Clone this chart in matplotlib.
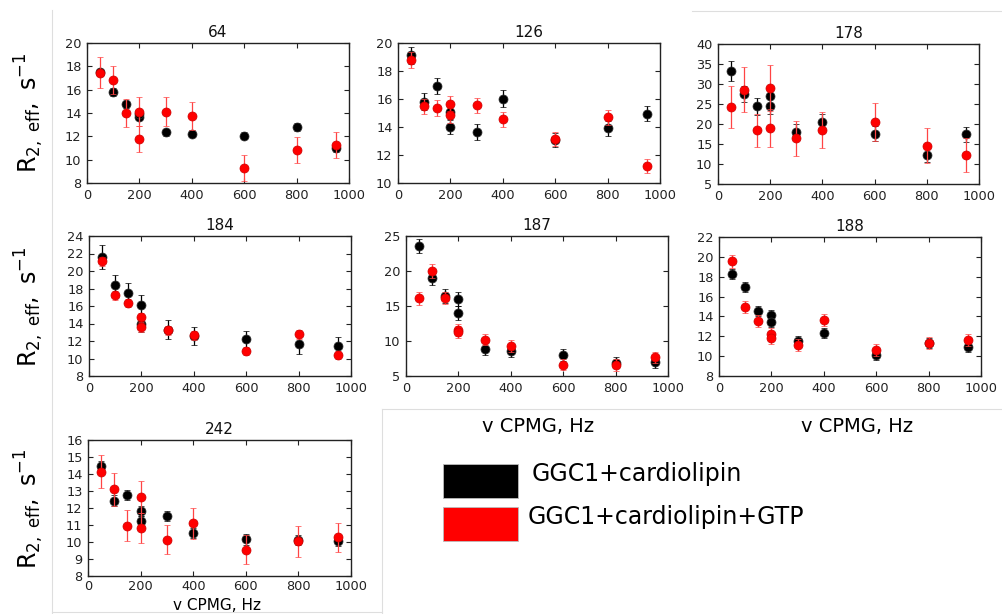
import matplotlib
matplotlib.use("Agg")
import matplotlib.pyplot as plt
from matplotlib.lines import Line2D
from matplotlib.patches import Rectangle

plt.rcParams['font.family'] = ['DejaVu Sans']
plt.rcParams['mathtext.fontset'] = 'dejavusans'

# CPMG frequencies (Hz); 200 Hz measured twice
nu_cpmg = [50, 100, 150, 200, 200, 300, 400, 600, 800, 950]

residues = ["64", "126", "178", "184", "187", "188", "242"]

# GGC1 + cardiolipin (black)
black_r2 = {
    "64":  [17.5, 15.78, 14.75, 13.7, 13.9, 12.36, 12.22, 12.05, 12.8, 11.0],
    "126": [19.11, 15.81, 16.91, 15.07, 14.0, 13.64, 16.03, 13.06, 13.9, 14.95],
    "178": [33.3, 27.5, 24.4, 27.1, 24.5, 18.1, 20.5, 17.6, 12.3, 17.4],
    "184": [21.6, 18.4, 17.49, 16.11, 13.98, 13.3, 12.6, 12.19, 11.66, 11.43],
    "187": [23.62, 18.95, 16.43, 15.95, 14.05, 8.9, 8.57, 7.95, 6.9, 7.0],
    "188": [18.32, 16.98, 14.53, 14.16, 13.46, 11.55, 12.35, 10.11, 11.28, 10.91],
    "242": [14.48, 12.44, 12.76, 11.83, 11.22, 11.52, 10.51, 10.15, 10.13, 10.06],
}
black_err = {
    "64":  [0.3, 0.33, 0.3, 0.3, 0.3, 0.3, 0.3, 0.3, 0.3, 0.3],
    "126": [0.6, 0.6, 0.57, 0.5, 0.5, 0.55, 0.6, 0.5, 0.55, 0.55],
    "178": [2.5, 2.0, 2.1, 2.0, 2.0, 2.0, 2.0, 1.9, 1.8, 1.9],
    "184": [1.33, 1.14, 1.1, 1.1, 1.0, 1.1, 1.05, 1.0, 1.1, 1.05],
    "187": [1.0, 1.0, 1.0, 1.0, 1.0, 0.9, 0.8, 0.85, 0.8, 0.8],
    "188": [0.5, 0.5, 0.5, 0.5, 0.5, 0.5, 0.5, 0.5, 0.5, 0.5],
    "242": [0.3, 0.3, 0.3, 0.3, 0.3, 0.3, 0.3, 0.3, 0.3, 0.3],
}

# GGC1 + cardiolipin + GTP (red)
red_r2 = {
    "64":  [17.47, 16.84, 14.03, 14.11, 11.79, 14.11, 13.77, 9.26, 10.84, 11.24],
    "126": [18.8, 15.48, 15.36, 15.67, 14.83, 15.55, 14.55, 13.13, 14.69, 11.2],
    "178": [24.2, 28.6, 18.4, 29.0, 19.0, 16.4, 18.5, 20.45, 14.6, 12.3],
    "184": [21.1, 17.22, 16.34, 14.7, 13.56, 13.22, 12.65, 10.86, 12.76, 10.36],
    "187": [16.1, 20.05, 16.14, 11.57, 11.29, 10.19, 9.29, 6.62, 6.57, 7.67],
    "188": [19.56, 14.97, 13.56, 12.22, 11.85, 11.15, 13.66, 10.61, 11.28, 11.62],
    "242": [14.13, 13.09, 10.97, 12.63, 10.82, 10.13, 11.09, 9.54, 10.04, 10.27],
}
red_err = {
    "64":  [1.32, 1.23, 1.2, 1.23, 1.13, 1.22, 1.2, 1.13, 1.12, 1.13],
    "126": [0.55, 0.55, 0.55, 0.55, 0.55, 0.55, 0.55, 0.5, 0.55, 0.5],
    "178": [5.3, 5.7, 4.2, 5.8, 4.8, 4.4, 4.6, 4.8, 4.3, 4.2],
    "184": [0.5, 0.5, 0.5, 0.5, 0.5, 0.5, 0.5, 0.45, 0.5, 0.45],
    "187": [0.9, 1.0, 0.8, 0.8, 0.8, 0.8, 0.8, 0.8, 0.8, 0.8],
    "188": [0.65, 0.6, 0.6, 0.6, 0.6, 0.6, 0.6, 0.6, 0.6, 0.6],
    "242": [0.98, 0.95, 0.9, 0.95, 0.9, 0.85, 0.9, 0.85, 0.9, 0.85],
}

y_ranges = {
    "64": (8, 20, 2), "126": (10, 20, 2), "178": (5, 40, 5),
    "184": (8, 24, 2), "187": (5, 25, 5), "188": (8, 22, 2), "242": (8, 16, 1),
}
x_ticks = [0, 200, 400, 600, 800, 1000]

legend_labels = ["GGC1+cardiolipin", "GGC1+cardiolipin+GTP"]
ylabel_text = r"$\mathrm{R}_{2,\ \mathrm{eff}},\ \mathrm{s}^{-1}$"
xlabel_text = "v CPMG, Hz"

W, H = 1002, 614
fig = plt.figure(figsize=(W / 100, H / 100), dpi=100)
fig.patch.set_facecolor("white")

# axes boxes in pixels: x0, x1, y0 (top), y1 (bottom)
boxes = {
    "64": (87, 349, 43, 183), "126": (398, 660, 43, 183), "178": (718, 979, 44, 184),
    "184": (89, 351, 236, 376), "187": (406, 668, 236, 376), "188": (719, 981, 237, 376),
    "242": (88, 351, 440, 576),
}

def px_axes(x0, x1, y0, y1):
    return fig.add_axes([x0 / W, 1 - y1 / H, (x1 - x0) / W, (y1 - y0) / H])

# faint panel borders (composite image)
def fline(xs, ys):
    fig.add_artist(Line2D([x / W for x in xs], [1 - y / H for y in ys],
                          color="#dedede", lw=0.8, transform=fig.transFigure))

fline([52, 52], [10, 614])
fline([692, 1002], [11, 11])
fline([382, 1002], [409, 409])
fline([382, 382], [409, 614])
fline([52, 382], [612, 612])

for res in residues:
    ax = px_axes(*boxes[res])
    ax.errorbar(nu_cpmg, black_r2[res], yerr=black_err[res], fmt="o", color="black",
                ecolor="black", elinewidth=0.9, capsize=2.5, capthick=0.9,
                markersize=6.5, markeredgewidth=0.5, markeredgecolor="#333333", zorder=2)
    ax.errorbar(nu_cpmg, red_r2[res], yerr=red_err[res], fmt="o", color="red",
                ecolor="#ff4444", elinewidth=0.9, capsize=2.5, capthick=0.9,
                markersize=6.5, markeredgewidth=0.5, markeredgecolor="#cc0000", zorder=3)
    lo, hi, step = y_ranges[res]
    ax.set_ylim(lo, hi)
    ax.set_yticks(list(range(lo, hi + 1, step)))
    ax.set_xlim(0, 1000)
    ax.set_xticks(x_ticks)
    ax.tick_params(direction="in", top=True, right=True, length=3.5, width=0.8,
                   labelsize=9.3, pad=4, colors="#222222", labelcolor="#222222")
    if res == "242":
        ax.tick_params(axis="x", pad=3)
    for s in ax.spines.values():
        s.set_linewidth(1.0)
        s.set_color("#222222")
    ax.set_title(res, fontsize=11, pad=4, color="#111111")

# y labels
for yc in (113, 307, 509):
    fig.text(29 / W, 1 - yc / H, ylabel_text, rotation=90, ha="center", va="center",
             fontsize=17)

# x labels
for xc, yc, fs in ((538, 426, 14), (857, 426, 14)):
    fig.text(xc / W, 1 - yc / H, xlabel_text, ha="center", va="center", fontsize=fs)
fig.text(217 / W, 0.5 / H, xlabel_text, ha="center", va="bottom", fontsize=11)

# legend boxes
for (yt, yb), col, lab, tx in (((464, 498), "black", legend_labels[0], 532),
                               ((507, 541), "red", legend_labels[1], 528)):
    fig.add_artist(Rectangle((443 / W, 1 - yb / H), (518 - 443) / W, (yb - yt) / H,
                             facecolor=col, edgecolor="#bbbbbb", lw=0.6,
                             transform=fig.transFigure))
    fig.text(tx / W, 1 - (yt + 10) / H, lab, ha="left", va="center", fontsize=17)

fig.savefig("out.png", dpi=100, facecolor="white")
